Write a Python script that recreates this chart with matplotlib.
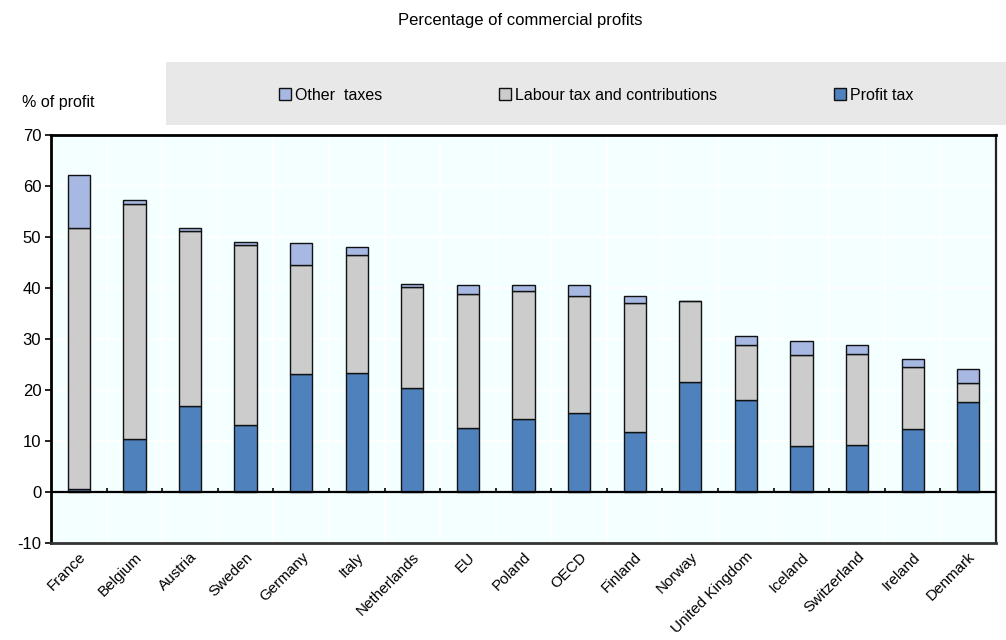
import numpy as np
import matplotlib
matplotlib.use("Agg")
import matplotlib.pyplot as plt
from matplotlib.patches import Rectangle, Patch

plt.rcParams['font.family'] = ['Liberation Sans', 'DejaVu Sans']
plt.rcParams['axes.unicode_minus'] = False

countries = ["France", "Belgium", "Austria", "Sweden", "Germany", "Italy",
             "Netherlands", "EU", "Poland", "OECD", "Finland", "Norway",
             "United Kingdom", "Iceland", "Switzerland", "Ireland", "Denmark"]
profit_tax = [0.6, 10.3, 16.9, 13.1, 23.1, 23.3, 20.4, 12.5, 14.4, 15.5,
              11.7, 21.6, 18.0, 9.0, 9.2, 12.3, 17.6]
labour_tax = [51.2, 46.2, 34.2, 35.3, 21.5, 23.2, 19.8, 26.3, 25.0, 22.9,
              25.4, 15.9, 10.9, 17.8, 17.8, 12.2, 3.8]
other_taxes = [10.4, 0.7, 0.7, 0.7, 4.3, 1.5, 0.5, 1.8, 1.1, 2.1,
               1.3, 0.0, 1.7, 2.9, 1.8, 1.5, 2.8]

c_profit = '#4f81bd'
c_labour = '#cccccc'
c_other = '#a7b9e3'

fig = plt.figure(figsize=(10.06, 6.4), dpi=100)
fig.patch.set_facecolor('white')
ax = fig.add_axes([51 / 1006, 97 / 640, 945 / 1006, 408 / 640])
ax.set_facecolor('#f4ffff')

x = np.arange(len(countries))
profit = np.array(profit_tax)
labour = np.array(labour_tax)
other = np.array(other_taxes)

w = 0.4
ax.bar(x, profit, w, color=c_profit, edgecolor='#111111', linewidth=1.0, zorder=3)
ax.bar(x, labour, w, bottom=profit, color=c_labour, edgecolor='#111111',
       linewidth=1.0, zorder=3)
ax.bar(x, other, w, bottom=profit + labour, color=c_other, edgecolor='#111111',
       linewidth=1.0, zorder=3)

ax.set_xlim(-0.5, len(countries) - 0.5)
ax.set_ylim(-10, 70)
ax.set_yticks(np.arange(-10, 71, 10))

# grid: horizontal at y ticks, vertical at category boundaries
bounds = np.arange(0.5, len(countries) - 0.5, 1)
for b in bounds:
    ax.axvline(b, color='white', lw=1.2, zorder=1)
for yv in np.arange(-10, 71, 10):
    ax.axhline(yv, color='white', lw=1.2, zorder=1)

# zero line with small category separators
ax.axhline(0, color='black', lw=1.6, zorder=4)
ax.vlines(bounds, 0, 0.7, color='black', lw=1.2, zorder=4)

ax.set_xticks(x)
ax.set_xticklabels(countries, rotation=45, ha='right', rotation_mode='anchor',
                   fontsize=11)
ax.tick_params(axis='x', length=0, pad=5)
ax.tick_params(axis='y', length=4, width=1.2, direction='out', labelsize=12, pad=3)

for side in ['top', 'left']:
    ax.spines[side].set_linewidth(2)
    ax.spines[side].set_color('black')
ax.spines['right'].set_linewidth(1.6)
ax.spines['right'].set_color('#222222')
ax.spines['bottom'].set_linewidth(2)
ax.spines['bottom'].set_color('#333333')

# title, unit label and legend band
fig.text(520 / 1006, 1 - 21 / 640, 'Percentage of commercial profits',
         ha='center', va='center', fontsize=12)
fig.text(22 / 1006, 1 - 103 / 640, '% of profit', ha='left', va='center',
         fontsize=11.5)
fig.patches.append(Rectangle((166 / 1006, 1 - 125 / 640), 840 / 1006, 63 / 640,
                             transform=fig.transFigure, facecolor='#e8e8e8',
                             edgecolor='none', zorder=0))

handles = [Patch(facecolor=c_other, edgecolor='#111111', lw=1.0),
           Patch(facecolor=c_labour, edgecolor='#111111', lw=1.0),
           Patch(facecolor=c_profit, edgecolor='#111111', lw=1.0)]
labels = ['Other  taxes', 'Labour tax and contributions', 'Profit tax']
fig.legend(handles, labels, ncol=3, loc='center',
           bbox_to_anchor=(596 / 1006, 1 - 95 / 640), frameon=False,
           fontsize=11.5, handlelength=0.75, handleheight=0.75,
           handletextpad=0.25, columnspacing=7.3)

fig.savefig('out.png', dpi=100)
